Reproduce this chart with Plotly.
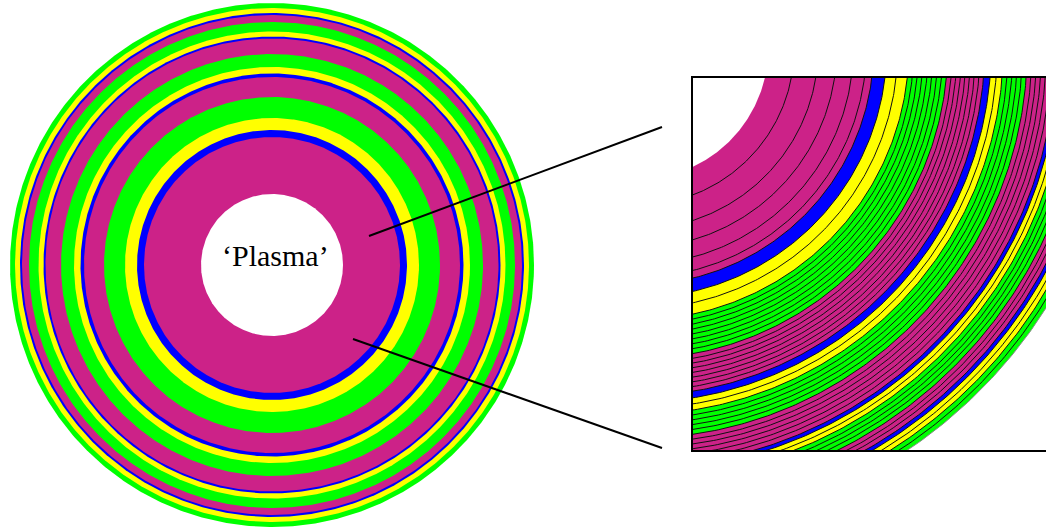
import numpy as np
import plotly.graph_objects as go

# ---------------- data (radial units, outer radius = 262) ----------------
hole_radius = 71
layer_outer = [128, 135, 147, 168, 188, 191.5, 198, 211,
               226.5, 228.5, 233.5, 243, 250, 252, 257, 262]
layer_color = ["#CC2288", "#0000FF", "#FFFF00", "#00FF00"] * 4
layer_cells = [6, 1, 2, 8, 8, 1, 2, 5, 6, 1, 2, 4, 3, 1, 2, 2]
inner_layer_mesh = [85, 98, 108, 117, 124]
label_text = "\u2018Plasma\u2019"

# ---------------- geometry helpers ----------------
W, H = 1046, 530
theta = np.linspace(0, 2 * np.pi, 721)


def circle(r):
    return r * np.cos(theta), r * np.sin(theta)


# mesh line radii for the zoomed panel
layer_inner = [hole_radius] + layer_outer[:-1]
mesh_r = []
for i, (ri, ro, n) in enumerate(zip(layer_inner, layer_outer, layer_cells)):
    if i == 0:
        mesh_r.extend(inner_layer_mesh)
    else:
        mesh_r.extend(ri + (ro - ri) * k / n for k in range(1, n))
    if i < len(layer_outer) - 1:
        mesh_r.append(ro)

fig = go.Figure()

for xa, ya in (("x", "y"), ("x2", "y2")):
    # filled discs, outermost first
    for ro, col in sorted(zip(layer_outer, layer_color), key=lambda t: -t[0]):
        cx, cy = circle(ro)
        fig.add_trace(go.Scatter(x=cx, y=cy, mode="lines", fill="toself",
                                 fillcolor=col, line=dict(width=0),
                                 hoverinfo="skip", showlegend=False,
                                 xaxis=xa, yaxis=ya))
    cx, cy = circle(hole_radius)
    fig.add_trace(go.Scatter(x=cx, y=cy, mode="lines", fill="toself",
                             fillcolor="white", line=dict(width=0),
                             hoverinfo="skip", showlegend=False,
                             xaxis=xa, yaxis=ya))

# mesh lines in zoomed panel
mx, my = [], []
for r in mesh_r:
    cx, cy = circle(r)
    mx.extend(list(cx) + [None])
    my.extend(list(cy) + [None])
fig.add_trace(go.Scatter(x=mx, y=my, mode="lines",
                         line=dict(color="#111111", width=1),
                         hoverinfo="skip", showlegend=False,
                         xaxis="x2", yaxis="y2"))
ox, oy = circle(layer_outer[-1])
fig.add_trace(go.Scatter(x=ox, y=oy, mode="lines",
                         line=dict(color="#888888", width=1),
                         hoverinfo="skip", showlegend=False,
                         xaxis="x2", yaxis="y2"))

hidden = dict(showgrid=False, zeroline=False, showticklabels=False,
              ticks="", showline=False)

# left disk: 1 unit = 1 px, centre at (272, 265)
lx0 = 272
fig.update_layout(
    xaxis=dict(domain=[0, 546 / W], range=[-lx0, 546 - lx0], **hidden),
    yaxis=dict(domain=[0, 1], range=[-265, 265], **hidden),
)

# zoomed panel: 1 unit = 1.85 px, centre at (637, 48) px
s = 1.85
cxp, cyp = 637, 48
bx0, by0, by1 = 693, 78, 450
fig.update_layout(
    xaxis2=dict(domain=[bx0 / W, 1],
                range=[(bx0 - cxp) / s, (W - cxp) / s],
                showgrid=False, zeroline=False, showticklabels=False,
                ticks="", showline=True, mirror=True,
                linecolor="black", linewidth=2, anchor="y2"),
    yaxis2=dict(domain=[(H - by1) / H, (H - by0) / H],
                range=[-(by1 - cyp) / s, -(by0 - cyp) / s],
                showgrid=False, zeroline=False, showticklabels=False,
                ticks="", showline=True, mirror=False,
                linecolor="black", linewidth=2, anchor="x2"),
)

fig.add_annotation(x=3, y=10, xref="x", yref="y", text=label_text,
                   showarrow=False,
                   font=dict(family="Liberation Serif", size=30, color="black"))


def P(px, py):
    return px / W, 1 - py / H


for (a, b) in (((369, 236), (662, 127)), ((353, 339), (662, 448))):
    x0, y0 = P(*a)
    x1, y1 = P(*b)
    fig.add_shape(type="line", xref="paper", yref="paper",
                  x0=x0, y0=y0, x1=x1, y1=y1,
                  line=dict(color="black", width=2))

fig.update_layout(width=W, height=H, margin=dict(l=0, r=0, t=0, b=0, pad=0),
                  paper_bgcolor="white", plot_bgcolor="rgba(0,0,0,0)",
                  showlegend=False)

fig.write_html("out.html", config={"displayModeBar": False},
               post_script="document.body.style.margin='0';")
